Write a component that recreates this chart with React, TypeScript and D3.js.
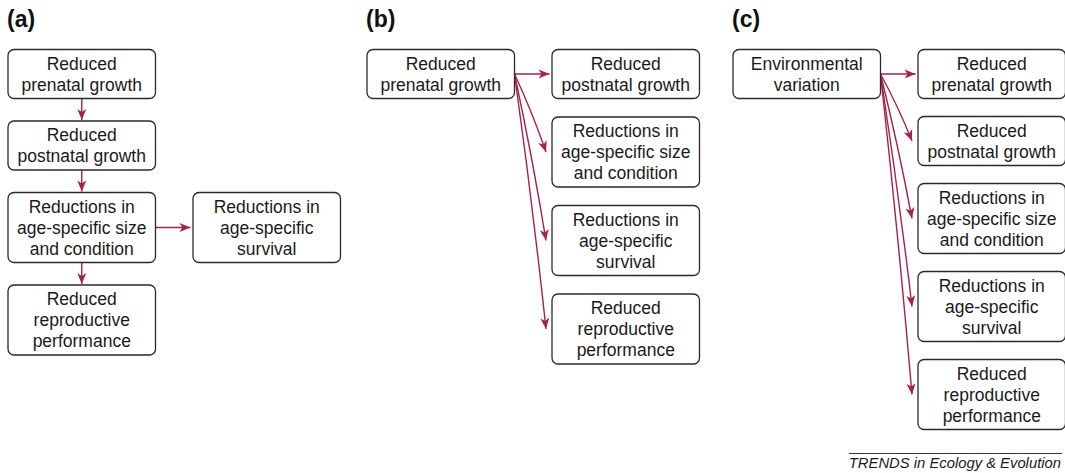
import React from "react";
import * as d3 from "d3";

// ---- data ----
const panelLabels = ["(a)", "(b)", "(c)"];

const nodesA = [
  { id: "a1", col: 0, row: 0, lines: ["Reduced", "prenatal growth"] },
  { id: "a2", col: 0, row: 1, lines: ["Reduced", "postnatal growth"] },
  { id: "a3", col: 0, row: 2, lines: ["Reductions in", "age-specific size", "and condition"] },
  { id: "a4", col: 0, row: 3, lines: ["Reduced", "reproductive", "performance"] },
  { id: "a5", col: 1, row: 2, lines: ["Reductions in", "age-specific", "survival"] },
];
const edgesA = [["a1", "a2"], ["a2", "a3"], ["a3", "a4"], ["a3", "a5"]];

const nodesB = [
  { id: "b1", col: 0, row: 0, lines: ["Reduced", "prenatal growth"] },
  { id: "b2", col: 1, row: 0, lines: ["Reduced", "postnatal growth"] },
  { id: "b3", col: 1, row: 1, lines: ["Reductions in", "age-specific size", "and condition"] },
  { id: "b4", col: 1, row: 2, lines: ["Reductions in", "age-specific", "survival"] },
  { id: "b5", col: 1, row: 3, lines: ["Reduced", "reproductive", "performance"] },
];
const edgesB = [["b1", "b2"], ["b1", "b3"], ["b1", "b4"], ["b1", "b5"]];

const nodesC = [
  { id: "c1", col: 0, row: 0, lines: ["Environmental", "variation"] },
  { id: "c2", col: 1, row: 0, lines: ["Reduced", "prenatal growth"] },
  { id: "c3", col: 1, row: 1, lines: ["Reduced", "postnatal growth"] },
  { id: "c4", col: 1, row: 2, lines: ["Reductions in", "age-specific size", "and condition"] },
  { id: "c5", col: 1, row: 3, lines: ["Reductions in", "age-specific", "survival"] },
  { id: "c6", col: 1, row: 4, lines: ["Reduced", "reproductive", "performance"] },
];
const edgesC = [["c1", "c2"], ["c1", "c3"], ["c1", "c4"], ["c1", "c5"], ["c1", "c6"]];

const footerText = "TRENDS in Ecology & Evolution";

// ---- layout / style ----
const W = 1065;
const H = 473;
const panelX = d3.scaleOrdinal<number, number>().domain([0, 1, 2]).range([8, 367, 733]);
const colX = d3.scaleLinear().domain([0, 1]).range([0, 185]);
const BOX_W = 147.5;
const LINE_H = 21;
const TOP = 49.5;
const rowGap = [22.5, 18.5, 18];
const ARROW = "#a8214a";
const STROKE = "#2a2a2a";
const FONT = "'Liberation Sans', Arial, Helvetica, sans-serif";

const panels = [
  { nodes: nodesA, edges: edgesA },
  { nodes: nodesB, edges: edgesB },
  { nodes: nodesC, edges: edgesC },
];

type Box = { id: string; x: number; y: number; w: number; h: number; lines: string[] };

function layoutPanel(pi: number) {
  const { nodes } = panels[pi];
  const nRows = d3.max(nodes, (n) => n.row)! + 1;
  const rowLines = d3.range(nRows).map((r) => d3.max(nodes.filter((n) => n.row === r), (n) => n.lines.length)!);
  const rowH = rowLines.map((l) => l * LINE_H + 7);
  const rowY: number[] = [];
  let y = TOP;
  rowH.forEach((h) => {
    rowY.push(y);
    y += h + rowGap[pi];
  });
  const boxes: Record<string, Box> = {};
  nodes.forEach((n) => {
    boxes[n.id] = {
      id: n.id,
      x: panelX(pi) + colX(n.col),
      y: rowY[n.row],
      w: BOX_W,
      h: rowH[n.row],
      lines: n.lines,
    };
  });
  return boxes;
}

function edgePath(s: Box, t: Box) {
  const p = d3.path();
  if (Math.abs(s.x - t.x) < 1) {
    const cx = s.x + s.w / 2;
    p.moveTo(cx, s.y + s.h);
    p.lineTo(cx, t.y - 1);
  } else {
    const x0 = s.x + s.w;
    const y0 = s.y + s.h / 2;
    const ty = t.y + t.h / 2;
    const horiz = Math.abs(ty - y0) < 1;
    const x1 = t.x - (horiz ? 2.5 : 6);
    p.moveTo(x0, y0);
    if (horiz) {
      p.lineTo(x1, ty);
    } else {
      const mx = (x0 + x1) / 2 + 2;
      const my = (y0 + ty) / 2 - 1;
      p.quadraticCurveTo(mx, my, x1, ty);
    }
  }
  return p.toString();
}

export default function App() {
  const laid = panels.map((_, i) => layoutPanel(i));
  return (
    <svg
      width={W}
      height={H}
      viewBox={`0 0 ${W} ${H}`}
      style={{ position: "absolute", left: 0, top: 0, background: "#fff" }}
      fontFamily={FONT}
    >
      <defs>
        <marker
          id="arrowhead"
          viewBox="-12 -5 13 10"
          markerWidth={13}
          markerHeight={10}
          refX={0}
          refY={0}
          orient="auto"
          markerUnits="userSpaceOnUse"
        >
          <path d="M0,0 L-11,-4.5 L-8,0 L-11,4.5 Z" fill={ARROW} />
        </marker>
      </defs>
      <rect x={0} y={0} width={W} height={H} fill="#fff" />
      {panelLabels.map((lab, i) => (
        <text key={lab} x={panelX(i) - 1} y={27} fontSize={23} fontWeight="bold" fill="#111">
          {lab}
        </text>
      ))}
      {panels.map((pnl, pi) => {
        const boxes = laid[pi];
        return (
          <g key={pi}>
            {pnl.edges.map(([a, b]) => (
              <path
                key={a + b}
                d={edgePath(boxes[a], boxes[b])}
                fill="none"
                stroke={ARROW}
                strokeWidth={1.4}
                markerEnd="url(#arrowhead)"
              />
            ))}
            {Object.values(boxes).map((bx) => {
              const cy = bx.y + bx.h / 2;
              const first = cy - ((bx.lines.length - 1) * LINE_H) / 2 + 6;
              return (
                <g key={bx.id}>
                  <rect
                    x={bx.x}
                    y={bx.y}
                    width={bx.w}
                    height={bx.h}
                    rx={6}
                    ry={6}
                    fill="#fff"
                    stroke={STROKE}
                    strokeWidth={1.3}
                  />
                  {bx.lines.map((ln, li) => (
                    <text
                      key={li}
                      x={bx.x + bx.w / 2}
                      y={first + li * LINE_H}
                      textAnchor="middle"
                      fontSize={17.5}
                      fill="#1a1a1a"
                    >
                      {ln}
                    </text>
                  ))}
                </g>
              );
            })}
          </g>
        );
      })}
      <line x1={849} x2={1062} y1={453.5} y2={453.5} stroke="#333" strokeWidth={1} />
      <text x={1061} y={468} textAnchor="end" fontSize={14.8} fontStyle="italic" fill="#1a1a1a">
        {footerText}
      </text>
    </svg>
  );
}
